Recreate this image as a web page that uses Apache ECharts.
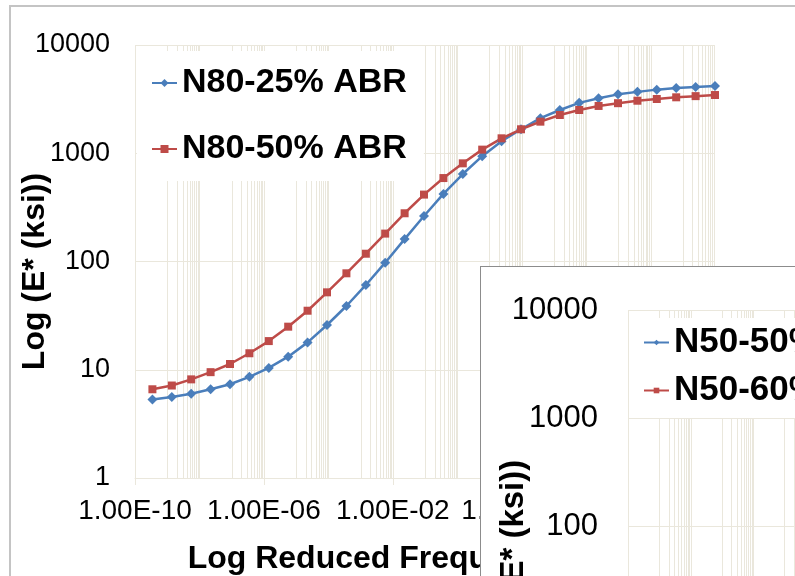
<!DOCTYPE html>
<html>
<head>
<meta charset="utf-8">
<script src="https://cdn.jsdelivr.net/npm/echarts@6/dist/echarts.min.js"></script>
<style>
  html, body { margin: 0; padding: 0; width: 795px; height: 576px; overflow: hidden; background: #fff; }
  #main { position: absolute; left: 0; top: 0; width: 795px; height: 576px; }
  #inset { position: absolute; left: 480px; top: 266px; width: 700px; height: 600px;
           background: #fff; border: 1px solid #8C8C8C; box-sizing: border-box; }
</style>
</head>
<body>
<div id="main"></div>
<div id="inset"></div>
<script>
// Reduced frequency (Hz) of each master-curve point
const frequency = [3.47e-10, 1.39e-9, 5.55e-9, 2.22e-8, 8.88e-8, 3.55e-7, 1.42e-6, 5.68e-6,
  2.27e-5, 9.09e-5, 3.64e-4, 1.46e-3, 5.82e-3, 2.33e-2, 9.31e-2, 0.373, 1.49, 5.96, 23.8,
  95.4, 381, 1530, 6100, 24400, 97700, 391000, 1.56e6, 6.25e6, 2.5e7, 1e8];

// Dynamic modulus |E*| (ksi)
const n80_25 = [5.3, 5.6, 6.0, 6.6, 7.35, 8.6, 10.4, 13.2, 17.9, 25.9, 38.8, 60.7, 97.5, 161,
  263, 421, 643, 940, 1290, 1665, 2110, 2510, 2920, 3220, 3500, 3690, 3870, 4000, 4100, 4190];
const n80_50 = [6.6, 7.15, 8.15, 9.5, 11.3, 14.2, 18.4, 25.0, 35.1, 51.9, 77.8, 118, 181, 279,
  415, 590, 807, 1080, 1374, 1665, 1958, 2256, 2510, 2735, 2900, 3057, 3170, 3287, 3370, 3450];

// Second panel (N50 mixes): no points supplied here
const n50_50 = [];
const n50_60 = [];

const seriesNamesN80 = ['N80-25% ABR', 'N80-50% ABR'];
const seriesNamesN50 = ['N50-50% ABR', 'N50-60% ABR'];

// Axis ranges and labelled ticks
const xMin = 1e-10, xMax = 1e8;
const yMin = 1, yMax = 10000;
const xTickLabels = [1e-10, 1e-6, 1e-2, 1e2, 1e6];

const BLUE = '#4A7EBB';
const RED = '#BE4B48';
const GRID = '#EAE7DC';
const FONT = '"Liberation Sans", Arial, sans-serif';

// Vertical grid: a major line every two decades, with linear steps of the
// following decade between majors (Excel style log gridlines).
function verticalGridValues() {
  const out = [];
  const e0 = Math.round(Math.log10(xMin));
  const e1 = Math.round(Math.log10(xMax));
  for (let e = e0; e < e1; e += 2) {
    out.push(Math.pow(10, e));
    for (let k = 1; k <= 9; k++) out.push(k * Math.pow(10, e + 1));
  }
  out.push(Math.pow(10, e1));
  return out;
}

function sciLabel(v) {
  const e = Math.round(Math.log10(v));
  return '1.00E' + (e < 0 ? '-' : '+') + String(Math.abs(e)).padStart(2, '0');
}

function pairs(ys) {
  return ys.map((y, i) => [frequency[i], y]);
}

function buildOption(cfg) {
  return {
    animation: false,
    textStyle: { fontFamily: FONT },
    graphic: cfg.graphic || [],
    grid: Object.assign({ outerBoundsMode: 'none', containLabel: false }, cfg.grid),
    legend: Object.assign({
      orient: 'vertical',
      backgroundColor: '#fff',
      itemWidth: 25,
      textStyle: { fontSize: cfg.legendFont, fontWeight: 'bold', color: '#000', fontFamily: FONT },
      data: cfg.names,
      z: 6
    }, cfg.legend),
    xAxis: {
      type: 'log', logBase: 10, min: xMin, max: xMax,
      axisLine: { show: true, lineStyle: { color: GRID, width: 1 } },
      axisTick: { show: true, customValues: xTickLabels, length: 7, lineStyle: { color: GRID } },
      axisLabel: { customValues: xTickLabels, formatter: sciLabel, fontSize: 28, color: '#000', margin: 19 },
      splitLine: { show: false },
      name: 'Log Reduced Frequency (Hz)', nameLocation: 'middle', nameGap: cfg.xNameGap,
      nameMoveOverlap: false,
      nameTextStyle: { fontSize: 32, fontWeight: 'bold', color: '#000', padding: [0, 32, 0, 0] }
    },
    yAxis: {
      type: 'log', logBase: 10, min: yMin, max: yMax,
      axisLine: { show: false }, axisTick: { show: false },
      axisLabel: { fontSize: cfg.yLabelFont, margin: cfg.yLabelMargin, color: '#000',
                   formatter: v => String(Math.round(v)) },
      splitLine: { show: true, lineStyle: { color: GRID, width: 1 } },
      name: 'Log (E* (ksi))', nameLocation: 'middle', nameRotate: 90, nameGap: cfg.yNameGap,
      nameMoveOverlap: false,
      nameTextStyle: { fontSize: cfg.yNameFont, fontWeight: 'bold', color: '#000', padding: cfg.yNamePad }
    },
    series: [
      {
        // vertical gridlines, positioned through the log x axis
        type: 'custom', name: '__grid', silent: true, z: 1, clip: true,
        data: verticalGridValues().map(v => [v, yMin, yMax]),
        encode: { x: 0, y: [1, 2] },
        renderItem: (params, api) => {
          const p0 = api.coord([api.value(0), api.value(1)]);
          const p1 = api.coord([api.value(0), api.value(2)]);
          const x = Math.round(p0[0]) + 0.5;
          return {
            type: 'line',
            shape: { x1: x, y1: p0[1], x2: x, y2: p1[1] },
            style: { stroke: GRID, lineWidth: 1 }
          };
        }
      },
      {
        type: 'line', name: cfg.names[0], data: pairs(cfg.values[0]), z: 3,
        symbol: 'diamond', symbolSize: 10,
        lineStyle: { color: BLUE, width: 2.5 }, itemStyle: { color: BLUE }
      },
      {
        type: 'line', name: cfg.names[1], data: pairs(cfg.values[1]), z: 3,
        symbol: 'rect', symbolSize: 8,
        lineStyle: { color: RED, width: 2.5 }, itemStyle: { color: RED }
      }
    ]
  };
}

const mainChart = echarts.init(document.getElementById('main'), null, { renderer: 'canvas' });
mainChart.setOption(buildOption({
  names: seriesNamesN80,
  values: [n80_25, n80_50],
  grid: { left: 135, top: 45, width: 580, height: 433 },
  legend: { left: 137, top: 51, padding: [15, 17, 15, 14], itemGap: 32, itemHeight: 10 },
  legendFont: 34,
  xNameGap: 65,
  yLabelFont: 27, yLabelMargin: 25,
  yNameGap: 84, yNameFont: 32, yNamePad: [0, 20, 0, 0],
  graphic: [{
    type: 'rect', z: 0, silent: true,
    shape: { x: 10, y: 6, width: 1200, height: 1200 },
    style: { fill: 'none', stroke: '#C4C4C4', lineWidth: 2 }
  }]
}));

const insetChart = echarts.init(document.getElementById('inset'), null, { renderer: 'canvas' });
insetChart.setOption(buildOption({
  names: seriesNamesN50,
  values: [n50_50, n50_60],
  grid: { left: 147, top: 43, width: 563, height: 433 },
  legend: { left: 149, top: 51, padding: [7, 10, 10, 13], itemGap: 13, itemHeight: 7 },
  legendFont: 35,
  xNameGap: 62,
  yLabelFont: 31, yLabelMargin: 30,
  yNameGap: 98, yNameFont: 33, yNamePad: [0, 70, 0, 0]
}));
</script>
</body>
</html>
